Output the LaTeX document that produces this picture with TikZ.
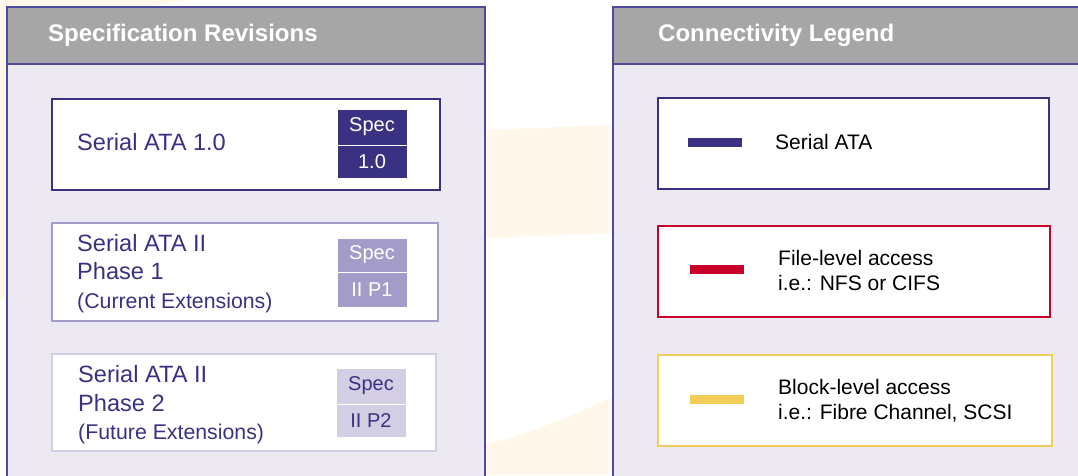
\documentclass[tikz,border=0pt]{standalone}
\usepackage{fontspec}
\setmainfont{Liberation Sans}
\usetikzlibrary{positioning}
\definecolor{navy}{RGB}{57,50,131}
\definecolor{frameblue}{RGB}{78,74,158}
\definecolor{headgray}{RGB}{166,166,166}
\definecolor{panelbg}{RGB}{236,233,242}
\definecolor{lilac}{RGB}{164,156,200}
\definecolor{pale}{RGB}{212,206,229}
\definecolor{cream}{RGB}{255,248,234}
\definecolor{accred}{RGB}{200,0,42}
\definecolor{accyel}{RGB}{242,205,88}
\newcommand{\headfont}{\fontsize{24}{28}\selectfont\bfseries}
\newcommand{\revfont}{\fontsize{23.6}{28.5}\selectfont}
\newcommand{\extfont}{\fontsize{21.3}{26}\selectfont}
\newcommand{\legfont}{\fontsize{21}{25}\selectfont}
\newcommand{\specfont}{\fontsize{20}{24}\selectfont}

\begin{document}
\begin{tikzpicture}[x=1pt,y=-1pt,
  head/.style={text=white,inner sep=0pt,font=\headfont},
  revbox/.style={draw=#1,line width=2pt,fill=white,inner sep=0pt,minimum height=91pt},
  revtext/.style={text=navy,inner sep=0pt,align=left,font=\revfont},
  spechalf/.style={fill=#1,draw=white,line width=1pt,text=white,inner sep=0pt,minimum width=70pt,font=\specfont},
  legtext/.style={text=black,inner sep=0pt,align=left,font=\legfont},
  swatch/.style={fill=#1,inner sep=0pt,minimum width=54pt,minimum height=9pt}]
  \useasboundingbox (0,0) rectangle (1078,475);
  \clip (0,0) rectangle (1078,475);
  % faint watermark behind the panels
  \fill[cream] (0,0) -- (185,0) -- (150,7) -- (7,7) -- (7,300) -- (0,300) -- cycle;
  \fill[cream] (485,130) -- (612,125) -- (612,233) -- (485,238) -- cycle;
  \fill[cream] (485,445) .. controls (540,430) and (580,412) .. (612,397) -- (612,475) -- (485,475) -- cycle;
  % panels
  \draw[frameblue,line width=1.5pt,fill=panelbg] (7,7) rectangle (485,490);
  \draw[frameblue,line width=1.5pt,fill=headgray] (7,7) rectangle (485,64);
  \draw[frameblue,line width=1.5pt,fill=panelbg] (613,7) rectangle (1090,490);
  \draw[frameblue,line width=1.5pt,fill=headgray] (613,7) rectangle (1090,64);
  \node[head,anchor=west] (spechead) at (48,35) {Specification Revisions};
  \node[head,anchor=west] (connhead) at (658,35) {Connectivity Legend};

  % revisions
  \node[revbox=navy,minimum width=388pt] (rev1) at (246,144.5) {};
  \node[revbox=lilac,minimum width=386pt,minimum height=98pt] (rev2) at (245,272) {};
  \node[revbox=pale,minimum width=384pt,minimum height=97pt] (rev3) at (244,402.5) {};
  \node[revtext,anchor=west] (rev1txt) at (77,142) {Serial ATA 1.0};
  \node[revtext,anchor=west] (rev2txt) at (77,273.5) {Serial ATA II\\Phase 1\\{\extfont(Current Extensions)}};
  \node[revtext,anchor=west] (rev3txt) at (78,405) {Serial ATA II\\Phase 2\\{\extfont(Future Extensions)}};
  \node[spechalf=navy,minimum height=36pt] (spec1) at (372,127) {Spec};
  \node[spechalf=navy,minimum height=33pt] (ver1) at (372,161.5) {1.0};
  \node[spechalf=lilac,minimum height=34pt] (spec2) at (372,255) {Spec};
  \node[spechalf=lilac,minimum height=35pt] (ver2) at (372,289.5) {II P1};
  \node[spechalf=pale,minimum height=36pt,text=navy] (spec3) at (371,386) {Spec};
  \node[spechalf=pale,minimum height=33pt,text=navy] (ver3) at (371,420.5) {II P2};

  % legend
  \node[revbox=navy,minimum width=391pt] (leg1) at (853.5,143.5) {};
  \node[revbox=accred,minimum width=392pt] (leg2) at (854,271.5) {};
  \node[revbox=accyel,minimum width=394pt] (leg3) at (855,400.5) {};
  \node[swatch=navy] (sw1) at (714.5,142) {};
  \node[swatch=accred] (sw2) at (716.5,269.5) {};
  \node[swatch=accyel] (sw3) at (716.5,399.5) {};
  \node[legtext,anchor=west] (leg1txt) at (775,142) {Serial ATA};
  \node[legtext,anchor=west] (leg2txt) at (778,270.5) {File-level access\\i.e.: NFS or CIFS};
  \node[legtext,anchor=west] (leg3txt) at (778,400.5) {Block-level access\\i.e.: Fibre Channel, SCSI};
\end{tikzpicture}
\end{document}
